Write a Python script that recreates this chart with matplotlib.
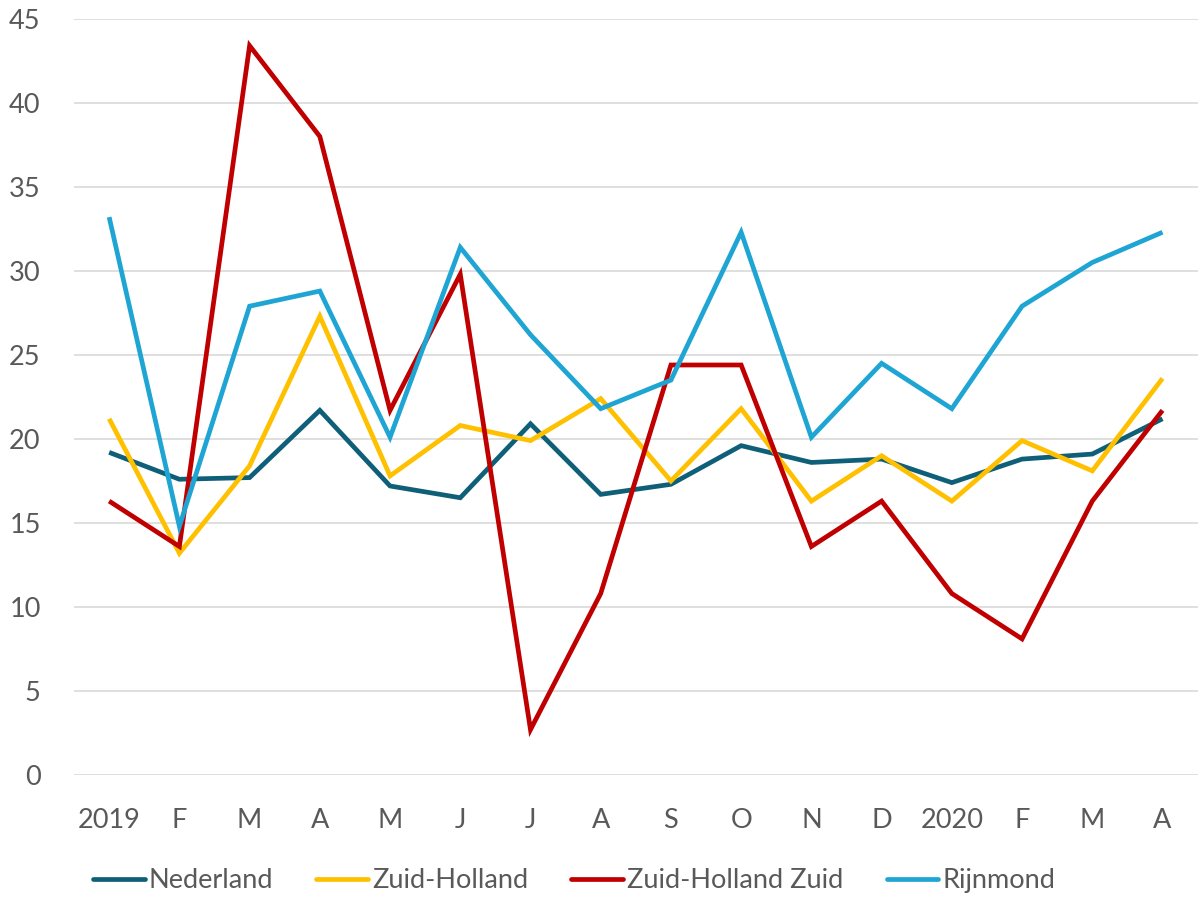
import matplotlib
matplotlib.use("Agg")
import matplotlib.pyplot as plt

months = ["2019", "F", "M", "A", "M", "J", "J", "A", "S", "O", "N", "D",
          "2020", "F", "M", "A"]

nederland = [19.2, 17.6, 17.7, 21.7, 17.2, 16.5, 20.9, 16.7, 17.3, 19.6,
             18.6, 18.8, 17.4, 18.8, 19.1, 21.2]
zuid_holland = [21.2, 13.2, 18.4, 27.3, 17.8, 20.8, 19.9, 22.4, 17.5, 21.8,
                16.3, 19.0, 16.3, 19.9, 18.1, 23.6]
zh_zuid = [16.3, 13.6, 43.4, 38.0, 21.7, 29.8, 2.7, 10.8, 24.4, 24.4,
           13.6, 16.3, 10.8, 8.1, 16.3, 21.7]
rijnmond = [33.2, 14.8, 27.9, 28.8, 20.1, 31.4, 26.2, 21.8, 23.5, 32.3,
            20.1, 24.5, 21.8, 27.9, 30.5, 32.3]

series = [
    ("Nederland", nederland, "#0f5f78"),
    ("Zuid-Holland", zuid_holland, "#ffc000"),
    ("Zuid-Holland Zuid", zh_zuid, "#c00000"),
    ("Rijnmond", rijnmond, "#1fa5d3"),
]

plt.rcParams["font.family"] = ["Lato", "DejaVu Sans"]
text_color = "#595959"

fig = plt.figure(figsize=(12, 8.97), dpi=100)
ax = fig.add_axes([0.0617, 0.136, 0.9363, 0.843])

x = list(range(len(months)))
for name, vals, col in series:
    ax.plot(x, vals, color=col, lw=3.4, label=name,
            solid_joinstyle="miter", solid_capstyle="butt")

ax.set_xlim(-0.5, len(months) - 0.5)
ax.set_ylim(0, 45)
ax.set_yticks(range(0, 46, 5))
ax.set_xticks(x)
ax.set_xticklabels(months)
ax.grid(axis="y", color="#d9d9d9", lw=1.2)
ax.set_axisbelow(True)
for s in ax.spines.values():
    s.set_visible(False)
ax.tick_params(length=0, labelsize=19.5, labelcolor=text_color)
ax.tick_params(axis="y", pad=24)
ax.tick_params(axis="x", pad=24)

leg = ax.legend(loc="center", bbox_to_anchor=(0.445, -0.14), ncol=4,
                frameon=False, fontsize=19.5, handlelength=1.9,
                columnspacing=1.6, handletextpad=0.15)
for t in leg.get_texts():
    t.set_color(text_color)
for h in leg.get_lines():
    h.set_solid_capstyle("round")

fig.savefig("out.png", dpi=100)
